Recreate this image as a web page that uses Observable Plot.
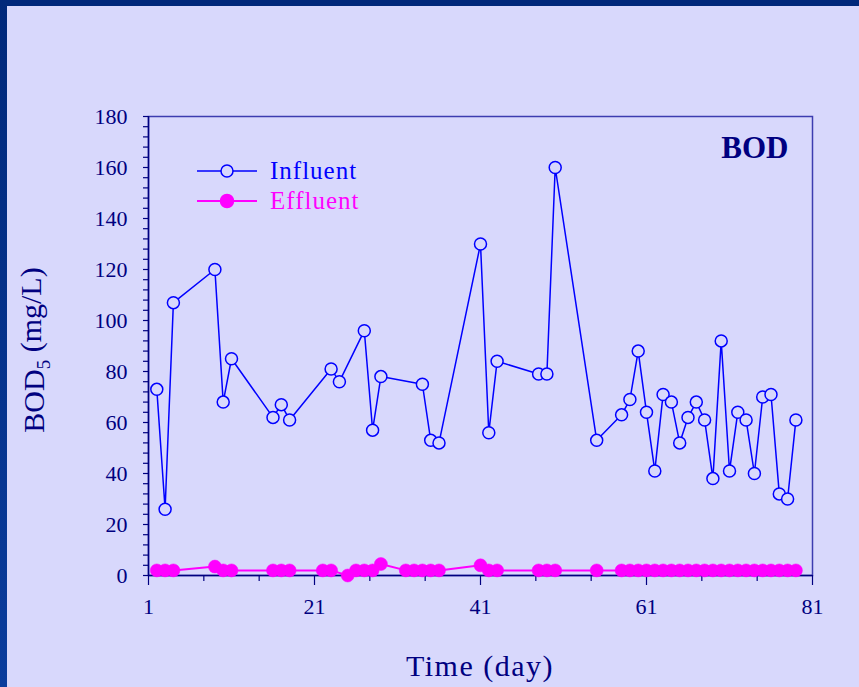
<!DOCTYPE html>
<html><head><meta charset="utf-8">
<script src="https://cdn.jsdelivr.net/npm/d3@7"></script>
<script src="https://cdn.jsdelivr.net/npm/@observablehq/plot@0.6"></script>
<style>
html,body{margin:0;padding:0;background:#d8d8fc;width:859px;height:687px;overflow:hidden;}
#wrap{position:relative;width:859px;height:687px;}
.bar-top{position:absolute;left:0;top:0;width:859px;height:6px;background:#00287a;z-index:2;}
.bar-left{position:absolute;left:0;top:0;width:7px;height:687px;background:linear-gradient(#00287a,#0a3c9c);z-index:2;}
#chart{position:absolute;left:0;top:0;}
#legend{position:absolute;left:0;top:0;}
</style></head><body>
<div id="wrap"><div class="bar-top"></div><div class="bar-left"></div><div id="chart"></div><svg id="legend" width="859" height="687"></svg></div>
<script>
const influentDay = [2,3,4,9,10,11,16,17,18,23,24,27,28,29,34,35,36,41,42,43,48,49,50,55,58,59,60,61,62,63,64,65,66,67,68,69,70,71,72,73,74,75,76,77,78,79];
const influentBOD = [73,26,107,120,68,85,62,67,61,81,76,96,57,78,75,53,52,130,56,84,79,79,160,53,63,69,88,64,41,71,68,52,62,68,61,38,92,41,64,61,40,70,71,32,30,61];
const effluentDay = [2,3,4,9,10,11,16,17,18,22,23,25,26,27,28,29,32,33,34,35,36,41,42,43,48,49,50,55,58,59,60,61,62,63,64,65,66,67,68,69,70,71,72,73,74,75,76,77,78,79];
const effluentBOD = [2,2,2,3.5,2,2,2,2,2,2,2,0,2,2,2,4.5,2,2,2,2,2,4,2,2,2,2,2,2,2,2,2,2,2,2,2,2,2,2,2,2,2,2,2,2,2,2,2,2,2,2];
const xTicks = [1,21,41,61,81];
const yTicks = [0,20,40,60,80,100,120,140,160,180];
const seriesNames = ["Influent","Effluent"];
const panelTitle = "BOD";
const xTitle = "Time (day)";

const navy = "#000080", bg = "#d8d8fc", blue = "#0000ff", magenta = "#ff00ff";
const influent = influentDay.map((d,i)=>({day:d, bod:influentBOD[i]}));
const effluent = effluentDay.map((d,i)=>({day:d, bod:effluentBOD[i]}));
const xMinor = d3.range(0,13).map(k=>1+k*20/3).filter((v,k)=>k%3!==0);
const yMinor = d3.range(0,181,4);

const chart = Plot.plot({
  width:859, height:687,
  marginLeft:148, marginRight:47, marginTop:116, marginBottom:112,
  style:{background:"transparent", fontFamily:"'Liberation Serif', 'Times New Roman', serif", color:navy, overflow:"visible"},
  x:{domain:[1,81], label:null},
  y:{domain:[0,180], label:null},
  marks:[
    Plot.frame({stroke:"#3c3cb0", strokeWidth:1.5}),
    Plot.axisY({ticks:yMinor, tickSize:5, text:null, stroke:navy, strokeWidth:1.2}),
    Plot.axisY({ticks:yTicks, tickSize:5, tickPadding:16, stroke:navy, fill:navy, fontSize:22, tickFormat:d=>String(d)}),
    Plot.axisX({ticks:xMinor, tickSize:6, text:null, stroke:navy, strokeWidth:1.2}),
    Plot.axisX({ticks:xTicks, tickSize:10, tickPadding:13, stroke:navy, strokeWidth:1.2, fill:navy, fontSize:22, tickFormat:d=>String(d)}),
    Plot.ruleX([1],{stroke:navy, strokeWidth:1.5}),
    Plot.ruleY([0],{stroke:navy, strokeWidth:1.5}),
    Plot.line(influent,{x:"day", y:"bod", stroke:blue, strokeWidth:1.5}),
    Plot.dot(influent,{x:"day", y:"bod", r:6, stroke:blue, fill:bg, strokeWidth:1.5}),
    Plot.line(effluent,{x:"day", y:"bod", stroke:magenta, strokeWidth:2}),
    Plot.dot(effluent,{x:"day", y:"bod", r:6.5, fill:magenta, stroke:magenta, strokeWidth:0.5}),
    Plot.text([panelTitle],{text:d=>d, frameAnchor:"top-right", dx:-24, dy:19, lineAnchor:"top", textAnchor:"end", fill:navy, fontSize:31, fontWeight:"bold"})
  ]
});
document.getElementById("chart").appendChild(chart);

const svg = d3.select(chart);
const yl = svg.append("text")
  .attr("transform","translate(44,350) rotate(-90)")
  .attr("text-anchor","middle")
  .attr("fill",navy)
  .attr("font-size","30px")
  .attr("font-family","'Liberation Serif', serif");
yl.append("tspan").text("BOD");
yl.append("tspan").attr("font-size","19px").attr("dy","0.3em").text("5");
yl.append("tspan").attr("dy","-0.3em").text(" (mg/L)");

svg.append("text")
  .attr("x",480).attr("y",676)
  .attr("text-anchor","middle")
  .attr("fill",navy)
  .attr("font-size","30px")
  .attr("letter-spacing","1.5px")
  .attr("font-family","'Liberation Serif', serif")
  .text(xTitle);

// legend
const lg = d3.select("#legend");
const colors = [blue, magenta];
seriesNames.forEach((name,i)=>{
  const y = 171 + i*30;
  lg.append("line").attr("x1",197).attr("x2",257).attr("y1",y).attr("y2",y).attr("stroke",colors[i]).attr("stroke-width",i?2:1.5);
  lg.append("circle").attr("cx",227).attr("cy",y).attr("r",i?6.5:6)
    .attr("fill",i?magenta:bg).attr("stroke",colors[i]).attr("stroke-width",1.5);
  lg.append("text").attr("x",270).attr("y",y+8).attr("fill",colors[i])
    .attr("font-size","25px").attr("letter-spacing","1px")
    .attr("font-family","'Liberation Serif', serif").text(name);
});
</script>
</body></html>
